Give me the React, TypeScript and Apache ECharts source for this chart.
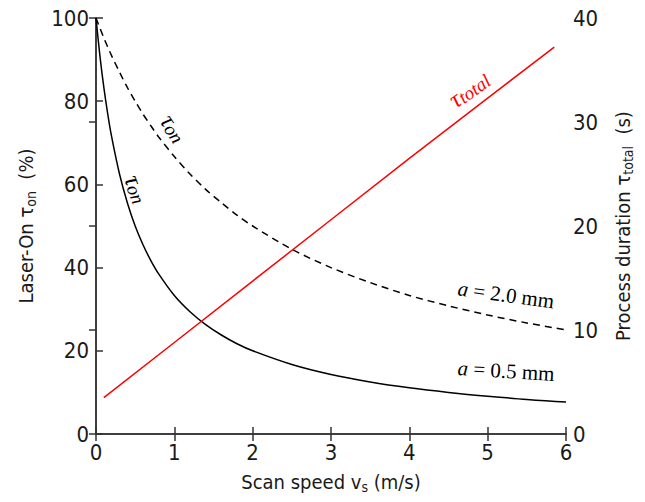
import React, { useEffect, useRef } from "react";
import * as echarts from "echarts";

const speeds = [0, 0.05, 0.1, 0.15, 0.2, 0.3, 0.4, 0.5, 0.6, 0.7, 0.8, 1.0, 1.2, 1.4, 1.6, 1.8, 2.0, 2.5, 3.0, 3.5, 4.0, 4.5, 5.0, 5.5, 6.0];
const laserOnSmall = [100, 90.9, 83.3, 76.9, 71.4, 62.5, 55.6, 50, 45.5, 41.7, 38.5, 33.3, 29.4, 26.3, 23.8, 21.7, 20, 16.7, 14.3, 12.5, 11.1, 10, 9.1, 8.3, 7.7];
const laserOnLarge = [100, 97.6, 95.2, 93.0, 90.9, 87.0, 83.3, 80, 76.9, 74.1, 71.4, 66.7, 62.5, 58.8, 55.6, 52.6, 50, 44.4, 40, 36.4, 33.3, 30.8, 28.6, 26.7, 25];
const totalSpeeds = [0.1, 1, 2, 3, 4, 5, 5.85];
const totalDuration = [3.5, 8.8, 14.7, 20.6, 26.5, 32.3, 37.2];

const xTicks = { min: 0, max: 6, interval: 1 };
const leftTicks = { min: 0, max: 100, interval: 20 };
const rightTicks = { min: 0, max: 40, interval: 10 };

const SANS = "'DejaVu Sans Condensed', 'DejaVu Sans', sans-serif";
const SERIF = "'Liberation Serif', 'DejaVu Serif', serif";
const TXT = "#1a1a1a";
const AX = "#333";

const nameRich = {
  n: { fontSize: 20, fontFamily: SANS, color: TXT, lineHeight: 26 },
  s: { fontSize: 14, fontFamily: SANS, color: TXT, lineHeight: 26, padding: [10, 0, 0, 0] },
};

function tauRich(color: string) {
  return {
    t: { fontSize: 25, fontFamily: SERIF, fontStyle: "italic", fill: color, lineHeight: 28 },
    s: { fontSize: 19, fontFamily: SERIF, fontStyle: "italic", fill: color, lineHeight: 28, padding: [6, 0, 0, 0] },
  };
}

export default function App() {
  const ref = useRef<HTMLDivElement>(null);
  useEffect(() => {
    if (!ref.current) return;
    const chart = echarts.init(ref.current, undefined, { renderer: "svg" });
    const axisLine = { show: true, lineStyle: { color: AX, width: 1.5 } };
    const axisTick = { show: true, inside: true, length: 7, lineStyle: { color: AX, width: 1.5 } };
    const label = { color: TXT, fontSize: 22, fontFamily: SANS };
    chart.setOption({
      animation: false,
      backgroundColor: "#fff",
      grid: { left: 96, right: 79, top: 18, bottom: 68, outerBoundsMode: "none", containLabel: false },
      xAxis: [
        {
          type: "value",
          position: "bottom",
          ...xTicks,
          axisLine,
          axisTick,
          splitLine: { show: false },
          axisLabel: { ...label, margin: 7 },
          name: "{n|Scan speed v}{s|s}{n| (m/s)}",
          nameLocation: "middle",
          nameGap: 35,
          nameTextStyle: { rich: nameRich },
        },
        {
          type: "value",
          position: "top",
          ...xTicks,
          axisLine,
          axisTick,
          splitLine: { show: false },
          axisLabel: { show: false },
        },
      ],
      yAxis: [
        {
          type: "value",
          position: "left",
          ...leftTicks,
          axisLine,
          axisTick,
          splitLine: { show: false },
          axisLabel: { ...label, margin: 7 },
          name: "{n|Laser-On τ}{s|on}{n|  (%)}",
          nameLocation: "middle",
          nameGap: 57,
          nameTextStyle: { rich: nameRich },
        },
        {
          type: "value",
          position: "right",
          ...rightTicks,
          axisLine,
          axisTick,
          splitLine: { show: false },
          axisLabel: { ...label, margin: 7 },
          name: "{n|Process duration τ}{s|total}{n|  (s)}",
          nameLocation: "middle",
          nameGap: 44,
          nameTextStyle: { rich: nameRich },
        },
      ],
      series: [
        {
          type: "line",
          xAxisIndex: 0,
          yAxisIndex: 0,
          data: speeds.map((v, i) => [v, laserOnSmall[i]]),
          smooth: 0.3,
          showSymbol: false,
          lineStyle: { color: "#000", width: 1.5 },
        },
        {
          type: "line",
          xAxisIndex: 0,
          yAxisIndex: 0,
          data: speeds.map((v, i) => [v, laserOnLarge[i]]),
          smooth: 0.3,
          showSymbol: false,
          lineStyle: { color: "#000", width: 1.5, type: [7, 5] },
        },
        {
          type: "line",
          xAxisIndex: 0,
          yAxisIndex: 1,
          data: totalSpeeds.map((v, i) => [v, totalDuration[i]]),
          showSymbol: false,
          lineStyle: { color: "#ff0000", width: 1.5 },
        },
      ],
      graphic: [
        {
          type: "text",
          x: 174,
          y: 128,
          rotation: -0.98,
          style: { text: "{t|τ}{s|on}", align: "center", verticalAlign: "middle", rich: tauRich("#000") },
        },
        {
          type: "text",
          x: 137,
          y: 189,
          rotation: -1.2,
          style: { text: "{t|τ}{s|on}", align: "center", verticalAlign: "middle", rich: tauRich("#000") },
        },
        {
          type: "text",
          x: 469,
          y: 89,
          rotation: 0.62,
          style: { text: "{t|τ}{s|total}", align: "center", verticalAlign: "middle", rich: tauRich("#ff0000") },
        },
        {
          type: "text",
          x: 506,
          y: 295,
          rotation: -0.136,
          style: {
            text: "{i|a}{n| = 2.0 mm}",
            align: "center",
            verticalAlign: "middle",
            rich: {
              i: { fontSize: 21, fontFamily: SERIF, fontStyle: "italic", fill: "#000" },
              n: { fontSize: 21, fontFamily: SERIF, fill: "#000" },
            },
          },
        },
        {
          type: "text",
          x: 506,
          y: 371,
          rotation: -0.06,
          style: {
            text: "{i|a}{n| = 0.5 mm}",
            align: "center",
            verticalAlign: "middle",
            rich: {
              i: { fontSize: 21, fontFamily: SERIF, fontStyle: "italic", fill: "#000" },
              n: { fontSize: 21, fontFamily: SERIF, fill: "#000" },
            },
          },
        },
      ],
    });
    return () => chart.dispose();
  }, []);
  return (
    <div
      ref={ref}
      style={{ position: "fixed", left: 0, top: 0, width: 645, height: 502, background: "#fff" }}
    />
  );
}
